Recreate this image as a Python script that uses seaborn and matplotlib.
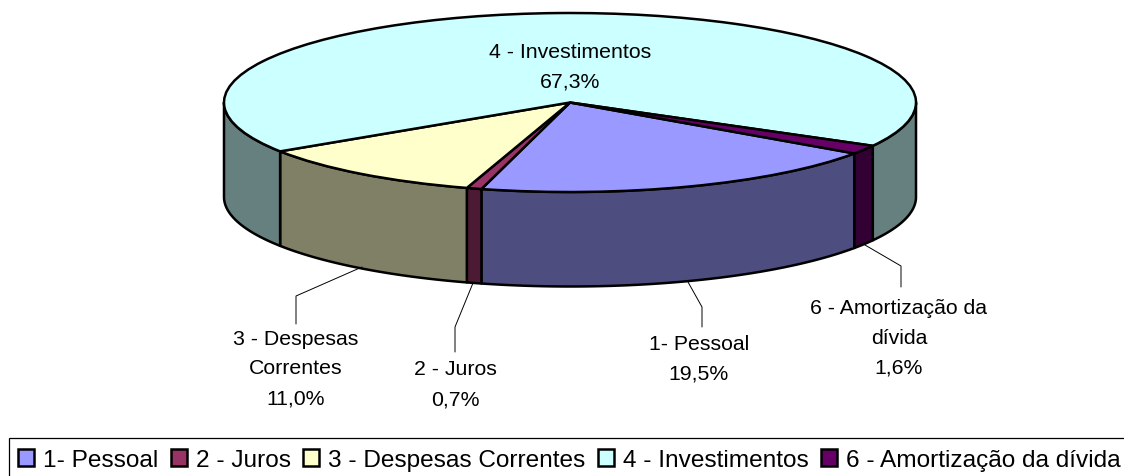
import matplotlib
matplotlib.use("Agg")
import matplotlib.pyplot as plt
from matplotlib.lines import Line2D
from matplotlib.patches import Rectangle
import numpy as np
import seaborn as sns

categories = ["1- Pessoal", "2 - Juros", "3 - Despesas Correntes", "4 - Investimentos", "6 - Amortização da dívida"]
shares = [19.5, 0.7, 11.0, 67.3, 1.6]
share_labels = ["19,5%", "0,7%", "11,0%", "67,3%", "1,6%"]
top_colors = ["#9999FF", "#993366", "#FFFFCC", "#CCFFFF", "#660066"]
side_colors = ["#4D4D80", "#4D1A33", "#808066", "#668080", "#330033"]

W, H = 1124, 477
CX, CY, RX, RY, DEPTH = 570.0, 103.5, 346.0, 89.5, 94.5

sns.set_theme(style="white")
plt.rcParams["font.family"] = ["Liberation Sans", "DejaVu Sans"]
plt.rcParams["text.color"] = "black"

fig = plt.figure(figsize=(W / 100, H / 100), dpi=100, facecolor="white")
ax = fig.add_axes([0, 0, 1, 1])
palette = sns.color_palette(top_colors)
wedges, _ = ax.pie(shares, colors=palette, startangle=-34.7, counterclock=False,
                   wedgeprops=dict(edgecolor="black", linewidth=1.8, joinstyle="round", zorder=3))
ax.set_aspect("auto")
ax.set_xlim((0 - CX) / RX, (W - CX) / RX)
ax.set_ylim(-(H - CY) / RY, CY / RY)
ax.axis("off")

d = DEPTH / RY
for wedge, side in zip(wedges, side_colors):
    for k in (-360, 0, 360, 720):
        a0 = max(wedge.theta1 + k, 180)
        a1 = min(wedge.theta2 + k, 360)
        if a1 <= a0:
            continue
        t = np.radians(np.linspace(a0, a1, 80))
        xs = np.concatenate([np.cos(t), np.cos(t)[::-1]])
        ys = np.concatenate([np.sin(t), np.sin(t)[::-1] - d])
        ax.fill(xs, ys, facecolor=side, edgecolor="black", linewidth=1.8, joinstyle="round", zorder=2)


def fx(x):
    return x / W


def fy(y):
    return 1 - y / H


def label(x, y, s):
    fig.text(fx(x), fy(y), s, ha="center", va="center", fontsize=15.3, color="black", zorder=6)


label(570, 52, categories[3])
label(570, 82, share_labels[3])
label(296, 340, "3 - Despesas")
label(296, 369, "Correntes")
label(296, 399, share_labels[2])
label(455, 370, categories[1])
label(455, 400, share_labels[1])
label(699, 345, categories[0])
label(699, 374, share_labels[0])
label(899, 308, "6 - Amortização da")
label(899, 338, "dívida")
label(899, 368, share_labels[4])

leaders = [
    ([362, 296, 296], [268, 297, 325]),
    ([473, 455, 455], [284, 328, 353]),
    ([688, 702, 702], [283, 308, 328]),
    ([865, 901, 901], [246, 267, 288]),
]
for xs, ys in leaders:
    fig.add_artist(Line2D([fx(v) for v in xs], [fy(v) for v in ys], color="black", linewidth=0.7,
                          transform=fig.transFigure, zorder=1))

fig.add_artist(Rectangle((fx(9), fy(495)), fx(1140 - 9), fy(439) - fy(495), transform=fig.transFigure,
                         facecolor="white", edgecolor="black", linewidth=0.9, zorder=4))

handles = [Rectangle((0, 0), 1, 1, facecolor=c, edgecolor="black", linewidth=1.8) for c in palette]
leg = fig.legend(handles, categories, loc="upper left", bbox_to_anchor=(fx(9), fy(441)),
                 bbox_transform=fig.transFigure, ncol=5, frameon=False, fontsize=17.6,
                 borderpad=0.37, borderaxespad=0, handlelength=0.66, handleheight=0.66,
                 handletextpad=0.37, columnspacing=0.5, labelspacing=0)
leg.set_zorder(5)

fig.savefig("out.png", dpi=100, facecolor="white")
